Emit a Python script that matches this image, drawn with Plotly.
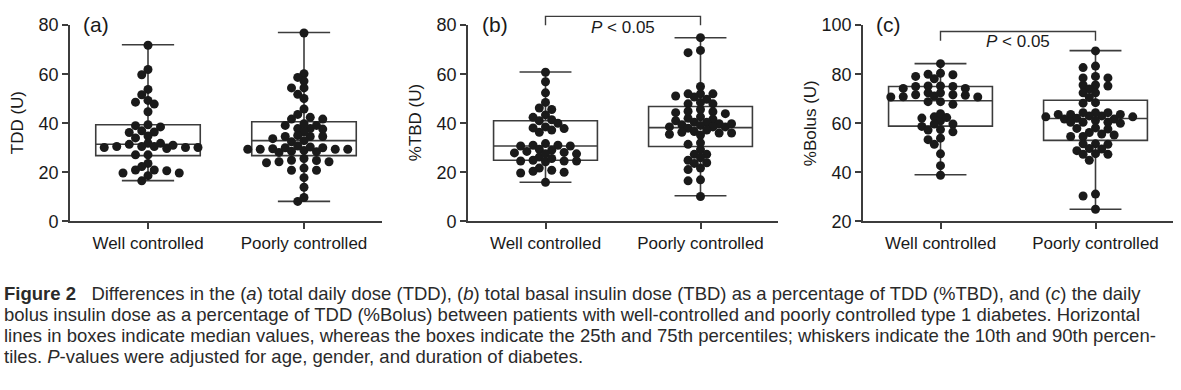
import numpy as np
import plotly.graph_objects as go

categories = ["Well controlled", "Poorly controlled"]

tdd_well = [71.8, 61.9, 59.8, 53.8, 51.6, 49.3, 47.8, 48.6, 44.7, 38.5, 39.4, 39.0, 36.4, 34.8,
            34.0, 36.2, 36.9, 30.1, 29.7, 31.8, 30.1, 31.0, 30.5, 30.5, 31.4, 30.1, 31.8, 30.5,
            27.1, 27.1, 23.6, 22.3, 20.9, 20.9, 19.7, 18.6, 19.7, 20.6, 16.5]
tdd_poor = [76.8, 60.2, 57.2, 58.7, 54.4, 54.4, 51.8, 50.1, 45.8, 42.4, 41.7, 41.7, 43.6, 39.1,
            37.8, 37.6, 37.8, 39.1, 39.8, 34.6, 34.6, 36.5, 35.0, 32.9, 32.4, 33.7, 34.6,
            29.6, 28.9, 29.4, 28.4, 29.4, 28.1, 30.7, 30.3, 29.4, 30.0, 28.6, 30.0, 29.4,
            24.9, 24.3, 25.6, 24.8, 23.9, 24.3, 21.7, 20.8, 20.8, 17.8, 13.9, 8.1, 9.7]
tbd_well = [60.8, 56.9, 52.4, 48.5, 45.6, 46.2, 42.4, 43.4, 41.0, 41.4, 40.0, 38.5, 37.8, 36.3,
            37.2, 38.1, 31.0, 31.7, 29.4, 31.0, 30.7, 30.7, 29.0, 27.9, 27.5, 28.5, 26.2, 27.5,
            28.1, 24.9, 24.6, 24.3, 25.6, 24.6, 24.6, 21.7, 19.7, 20.8, 20.0, 20.4, 15.9]
tbd_poor = [74.9, 68.8, 69.7, 55.0, 52.0, 50.7, 52.0, 52.0, 49.8, 51.1, 48.5, 47.9, 47.9, 44.7,
            43.9, 45.6, 42.6, 41.7, 42.0, 44.3, 44.9, 41.0, 40.4, 40.4,
            39.8, 39.4, 38.5, 38.5, 39.1, 38.0, 38.5, 39.8, 37.2, 36.6, 35.5, 35.2, 36.0, 36.0, 36.3,
            31.4, 32.0, 29.2, 27.3, 27.3, 24.9, 23.6, 23.9, 25.9, 21.7, 21.1, 16.9, 16.5, 10.1]
bolus_well = [84.3, 78.1, 80.0, 79.8, 79.1, 80.4, 75.2, 75.2, 74.2, 74.2, 75.0, 75.0, 70.7, 71.6,
              72.4, 71.4, 70.8, 72.4, 71.1, 70.7, 71.6, 68.8, 67.7, 68.8, 62.6, 61.0, 63.9, 58.7,
              59.7, 62.1, 62.3, 59.7, 56.5, 57.4, 57.2, 53.3, 51.4, 53.9, 47.5, 42.7, 38.8]
bolus_poor = [89.5, 83.3, 82.7, 79.1, 78.5, 78.5, 75.6, 75.2, 75.6, 74.0, 72.4, 72.4, 70.5, 68.2,
              68.4, 63.6, 61.7, 63.0, 64.3, 62.6, 64.3, 62.0, 63.6, 62.6, 63.0, 61.1, 63.6, 61.7,
              64.3, 60.4, 60.4, 60.0, 60.4, 57.6, 57.9, 58.1, 56.2, 55.2, 55.6, 54.6, 54.6, 51.6,
              51.4, 51.6, 48.8, 47.3, 49.7, 47.3, 47.6, 49.5, 44.9, 31.1, 30.3, 24.9]

# box statistics: lower whisker, q1, median, q3, upper whisker
tdd_box = [[16.6, 26.8, 31.4, 39.4, 72.0], [8.1, 26.8, 32.9, 40.6, 77.0]]
tbd_box = [[15.9, 24.9, 30.7, 41.0, 60.9], [10.4, 30.5, 38.2, 46.8, 74.9]]
bolus_box = [[39.0, 58.8, 69.2, 75.0, 84.3], [24.9, 53.0, 61.9, 69.4, 89.6]]

panel_labels = ["(a)", "(b)", "(c)"]
y_titles = ["TDD (U)", "%TBD (U)", "%Bolus (U)"]
y_ranges = [[0, 80], [0, 80], [20, 100]]
p_text = [None, "<i>P</i> < 0.05", "<i>P</i> < 0.05"]
bracket_levels = [None, [80.0, 83.6], [93.6, 97.4]]
p_text_y = [None, 79.2, 93.4]

caption_lines = [
    "<b>Figure 2</b>\u00a0\u00a0 Differences in the (<i>a</i>) total daily dose (TDD), (<i>b</i>) total basal insulin dose (TBD) as a percentage of TDD (%TBD), and (<i>c</i>) the daily",
    "bolus insulin dose as a percentage of TDD (%Bolus) between patients with well-controlled and poorly controlled type 1 diabetes. Horizontal",
    "lines in boxes indicate median values, whereas the boxes indicate the 25th and 75th percentiles; whiskers indicate the 10th and 90th percen-",
    "tiles. <i>P</i>-values were adjusted for age, gender, and duration of diabetes.",
]

W, H = 1181, 390
x_domains = [[70 / W, 382 / W], [468 / W, 778 / W], [863 / W, 1173 / W]]
y_domain = [1 - 222.7 / H, 1 - 16 / H]
INK = "#1a1a1a"
LINE = "#3c3c3c"
FONT = "Liberation Sans, Arial, sans-serif"

plot_h_px = (y_domain[1] - y_domain[0]) * H
plot_w_px = (x_domains[0][1] - x_domains[0][0]) * W


def swarm(vals, ppu_x, ppu_y, d=7.0, step=6.25):
    vals = np.asarray(vals, dtype=float)
    order = np.argsort(-vals)
    placed = []
    offs = np.zeros(len(vals))
    cands = [0.0] + [s * j * step for j in range(1, 40) for s in (-1, 1)]
    for i in order:
        ypx = vals[i] * ppu_y
        for c in cands:
            if all((c - px) ** 2 + (ypx - py) ** 2 >= d * d for px, py in placed):
                break
        placed.append((c, ypx))
        offs[i] = c / ppu_x
    return offs


def ypaper(v, rng):
    return y_domain[0] + (v - rng[0]) / (rng[1] - rng[0]) * (y_domain[1] - y_domain[0])


fig = go.Figure()
datasets = [(tdd_well, tdd_poor, tdd_box), (tbd_well, tbd_poor, tbd_box), (bolus_well, bolus_poor, bolus_box)]

for p, (well, poor, boxes) in enumerate(datasets):
    xa = "x" if p == 0 else f"x{p + 1}"
    ya = "y" if p == 0 else f"y{p + 1}"
    rng = y_ranges[p]
    ppu_y = plot_h_px / (rng[1] - rng[0])
    ppu_x = plot_w_px / 2.0
    for ci, (vals, st) in enumerate(zip([well, poor], boxes)):
        fig.add_trace(go.Box(
            x=[ci], lowerfence=[st[0]], q1=[st[1]], median=[st[2]], q3=[st[3]], upperfence=[st[4]],
            width=0.67, whiskerwidth=0.5, fillcolor="white",
            line=dict(color=LINE, width=1.6), boxpoints=False,
            xaxis=xa, yaxis=ya, showlegend=False, hoverinfo="skip",
        ))
        offs = swarm(vals, ppu_x, ppu_y)
        fig.add_trace(go.Scatter(
            x=ci + offs, y=vals, mode="markers",
            marker=dict(color=INK, size=9, line=dict(width=0)),
            xaxis=xa, yaxis=ya, showlegend=False, cliponaxis=False,
        ))

layout = dict(
    width=W, height=H, margin=dict(l=0, r=0, t=0, b=0),
    paper_bgcolor="white", plot_bgcolor="white",
    font=dict(family=FONT, size=17, color=INK),
)
for p in range(3):
    key = "" if p == 0 else str(p + 1)
    layout["xaxis" + key] = dict(
        domain=x_domains[p], anchor="y" + key, range=[-0.5, 1.5],
        tickvals=[0, 1], ticktext=categories, ticks="outside", ticklen=6, tickwidth=1.6,
        tickcolor=LINE, showline=True, linecolor=LINE, linewidth=1.6, showgrid=False,
        zeroline=False, tickfont=dict(size=17, color=INK), fixedrange=True,
    )
    layout["yaxis" + key] = dict(
        domain=y_domain, anchor="x" + key, range=y_ranges[p], dtick=20,
        ticks="outside", ticklen=6, tickwidth=1.6, tickcolor=LINE,
        showline=True, linecolor=LINE, linewidth=1.6, showgrid=False, zeroline=False,
        tickfont=dict(size=18, color=INK), fixedrange=True,
    )
fig.update_layout(**layout)

title_x = [17, 415, 810]
label_x = [96, 495, 888]
annotations = []
shapes = []
for p in range(3):
    key = "" if p == 0 else str(p + 1)
    annotations.append(dict(
        text=y_titles[p], x=title_x[p] / W, y=(y_domain[0] + y_domain[1]) / 2,
        xref="paper", yref="paper", textangle=-90, showarrow=False,
        xanchor="center", yanchor="middle", font=dict(size=17, color=INK)))
    annotations.append(dict(
        text=panel_labels[p], x=label_x[p] / W, y=1 - 15 / H, xref="paper", yref="paper",
        showarrow=False, xanchor="center", yanchor="middle", font=dict(size=21, color=INK)))
    if p_text[p]:
        rng = y_ranges[p]
        lo, hi = bracket_levels[p]
        shapes.append(dict(
            type="path", xref="x" + key, yref="paper",
            path=f"M 0,{ypaper(lo, rng)} L 0,{ypaper(hi, rng)} L 1,{ypaper(hi, rng)} L 1,{ypaper(lo, rng)}",
            line=dict(color=LINE, width=1.4)))
        annotations.append(dict(
            text=p_text[p], x=0.5, y=ypaper(p_text_y[p], rng), xref="x" + key, yref="paper",
            showarrow=False, xanchor="center", yanchor="middle", font=dict(size=17, color=INK)))

cap_y = [299, 321, 343, 365]
for line, yy in zip(caption_lines, cap_y):
    annotations.append(dict(
        text=line, x=2 / W, y=1 - yy / H, xref="paper", yref="paper", showarrow=False,
        xanchor="left", yanchor="middle", font=dict(size=18.5, color="#2a2a2a", family=FONT)))

fig.update_layout(annotations=annotations, shapes=shapes)
fig.write_html("out.html", config={"displayModeBar": False},
               post_script="document.body.style.margin='0px';document.body.style.overflow='hidden';")
